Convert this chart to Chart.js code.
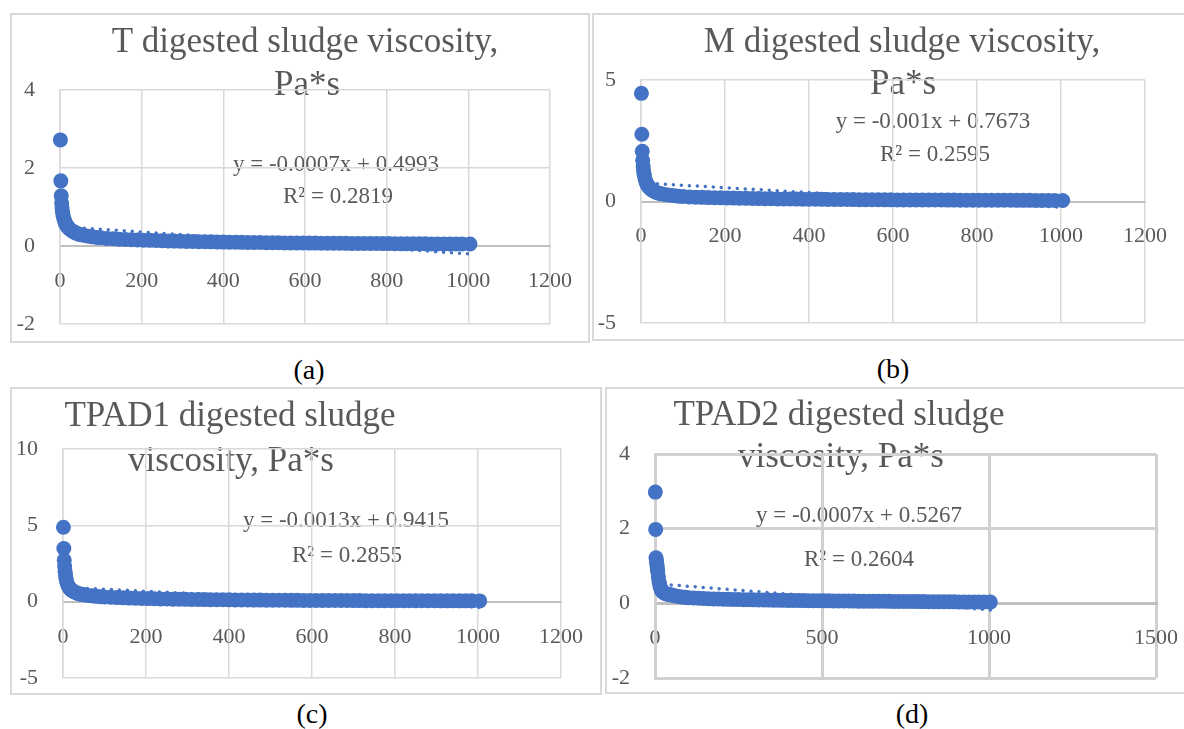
<!DOCTYPE html>
<html>
<head>
<meta charset="utf-8">
<script src="https://cdn.jsdelivr.net/npm/chart.js@4.4.1/dist/chart.umd.min.js"></script>
<style>
  html, body { margin: 0; padding: 0; background: #fff; }
  #page { position: relative; width: 1184px; height: 729px; overflow: hidden; font-family: "Liberation Serif", serif; }
  .frame { position: absolute; border: 2px solid #d9d9d9; box-sizing: border-box; }
  canvas { position: absolute; }
  .cap { position: absolute; font-size: 28px; line-height: 1; color: #000; transform: translate(-50%, -50%); white-space: nowrap; }
</style>
</head>
<body>
<div id="page"></div>
<script>
// x values (shear step) shared by all four runs
const xs = [1, 2, 3, 4, 5, 6, 7, 8, 10, 12, 14, 16, 18, 20, 24, 28, 32, 36, 40, 45, 50, 60, 70, 80, 90, 100,
  115, 130, 145, 160, 175, 190, 205, 220, 235, 250, 265, 280, 295, 310, 325, 340, 355, 370, 385, 400,
  415, 430, 445, 460, 475, 490, 505, 520, 535, 550, 565, 580, 595, 610, 625, 640, 655, 670, 685, 700,
  715, 730, 745, 760, 775, 790, 805, 820, 835, 850, 865, 880, 895, 910, 925, 940, 955, 970, 985, 1004];

// viscosity, Pa*s
const viscT = [2.72, 1.67, 1.29, 1.10, 0.98, 0.89, 0.82, 0.76, 0.68, 0.62, 0.57, 0.53, 0.50, 0.47, 0.43, 0.40, 0.37, 0.35, 0.33, 0.31, 0.29, 0.27, 0.25, 0.235, 0.22, 0.21,
  0.195, 0.185, 0.175, 0.165, 0.16, 0.155, 0.15, 0.145, 0.14, 0.135, 0.13, 0.126, 0.122, 0.118, 0.115, 0.112, 0.109, 0.106, 0.103, 0.10,
  0.098, 0.096, 0.094, 0.092, 0.09, 0.088, 0.086, 0.084, 0.082, 0.08, 0.079, 0.078, 0.076, 0.075, 0.074, 0.072, 0.071, 0.07, 0.069, 0.068,
  0.067, 0.066, 0.065, 0.064, 0.063, 0.062, 0.061, 0.06, 0.059, 0.058, 0.057, 0.056, 0.055, 0.054, 0.054, 0.053, 0.052, 0.051, 0.05, 0.05];

const viscM = [4.45, 2.77, 2.07, 1.70, 1.46, 1.29, 1.16, 1.06, 0.91, 0.80, 0.72, 0.66, 0.61, 0.57, 0.50, 0.45, 0.41, 0.38, 0.35, 0.33, 0.31, 0.28, 0.26, 0.24, 0.22, 0.21,
  0.19, 0.18, 0.17, 0.16, 0.155, 0.15, 0.145, 0.14, 0.135, 0.13, 0.125, 0.12, 0.116, 0.112, 0.108, 0.105, 0.102, 0.099, 0.096, 0.093,
  0.09, 0.088, 0.086, 0.084, 0.082, 0.08, 0.078, 0.076, 0.074, 0.072, 0.07, 0.069, 0.068, 0.066, 0.065, 0.064, 0.063, 0.062, 0.061, 0.06,
  0.059, 0.058, 0.057, 0.056, 0.055, 0.054, 0.053, 0.052, 0.051, 0.05, 0.05, 0.049, 0.048, 0.047, 0.047, 0.046, 0.045, 0.045, 0.044, 0.044];

const viscTPAD1 = [4.87, 3.48, 2.72, 2.30, 2.00, 1.76, 1.57, 1.42, 1.20, 1.06, 0.96, 0.88, 0.82, 0.77, 0.69, 0.63, 0.58, 0.54, 0.51, 0.48, 0.45, 0.41, 0.38, 0.35, 0.33, 0.31,
  0.285, 0.265, 0.25, 0.235, 0.22, 0.21, 0.2, 0.19, 0.18, 0.172, 0.165, 0.158, 0.152, 0.146, 0.14, 0.135, 0.13, 0.126, 0.122, 0.118,
  0.114, 0.11, 0.107, 0.104, 0.101, 0.098, 0.095, 0.093, 0.09, 0.088, 0.086, 0.084, 0.082, 0.08, 0.078, 0.076, 0.075, 0.073, 0.072, 0.07,
  0.069, 0.068, 0.066, 0.065, 0.064, 0.063, 0.062, 0.061, 0.06, 0.059, 0.058, 0.057, 0.056, 0.055, 0.055, 0.054, 0.053, 0.052, 0.052, 0.051];

const viscTPAD2 = [2.98, 1.98, 1.22, 1.16, 1.09, 1.01, 0.93, 0.85, 0.71, 0.59, 0.50, 0.43, 0.38, 0.34, 0.30, 0.28, 0.26, 0.25, 0.24, 0.23, 0.22, 0.20, 0.185, 0.17, 0.16, 0.15,
  0.142, 0.135, 0.129, 0.124, 0.119, 0.115, 0.111, 0.107, 0.104, 0.101, 0.098, 0.095, 0.093, 0.09, 0.088, 0.086, 0.084, 0.082, 0.08, 0.078,
  0.076, 0.074, 0.073, 0.071, 0.07, 0.068, 0.067, 0.066, 0.064, 0.063, 0.062, 0.061, 0.06, 0.059, 0.058, 0.057, 0.056, 0.055, 0.054, 0.053,
  0.052, 0.051, 0.05, 0.049, 0.048, 0.047, 0.046, 0.045, 0.044, 0.043, 0.042, 0.041, 0.04, 0.039, 0.038, 0.037, 0.036, 0.035, 0.034, 0.033];

// linear trendlines as printed on the charts
const trendT = { slope: -0.0007, intercept: 0.4993, r2: '0.2819' };
const trendM = { slope: -0.001, intercept: 0.7673, r2: '0.2595' };
const trendTPAD1 = { slope: -0.0013, intercept: 0.9415, r2: '0.2855' };
const trendTPAD2 = { slope: -0.0007, intercept: 0.5267, r2: '0.2604' };

const BLUE = '#4472C4';
const GREY = '#595959';
const SERIF = '"Liberation Serif", "Times New Roman", serif';

const panels = [
  { cap: '(a)', capPos: [309, 370], ys: viscT, trend: trendT,
    box: [10, 13, 590, 343], plot: [60, 90, 550, 324],
    xMax: 1200, xStep: 200, yMin: -2, yMax: 4, yStep: 2, gw: 1.5, gc: '#d9d9d9', aw: 2,
    title: [['T digested sludge viscosity,', 305, 52], ['Pa*s', 307, 95]],
    eq: [336, 171], r2: [338, 203] },
  { cap: '(b)', capPos: [893, 369], ys: viscM, trend: trendM,
    box: [592, 13, 1190, 341], plot: [641, 80, 1145, 323],
    xMax: 1200, xStep: 200, yMin: -5, yMax: 5, yStep: 5, gw: 1.5, gc: '#d9d9d9', aw: 2,
    title: [['M digested sludge viscosity,', 902, 52], ['Pa*s', 903, 94]],
    eq: [933, 128], r2: [935, 161] },
  { cap: '(c)', capPos: [312, 714], ys: viscTPAD1, trend: trendTPAD1,
    box: [10, 387, 602, 695], plot: [63, 449, 561, 678],
    xMax: 1200, xStep: 200, yMin: -5, yMax: 10, yStep: 5, gw: 1.5, gc: '#d9d9d9', aw: 2,
    title: [['TPAD1 digested sludge', 230, 426], ['viscosity, Pa*s', 231, 471]],
    eq: [346, 527], r2: [347, 562] },
  { cap: '(d)', capPos: [912, 714], ys: viscTPAD2, trend: trendTPAD2,
    box: [605, 387, 1190, 694], plot: [655, 454, 1156, 678],
    xMax: 1500, xStep: 500, yMin: -2, yMax: 4, yStep: 2, gw: 3, gc: '#d0d0d0', aw: 3,
    title: [['TPAD2 digested sludge', 839, 425], ['viscosity, Pa*s', 841, 467]],
    eq: [859, 522], r2: [859, 566] }
];

const page = document.getElementById('page');

function fmtEq(t) {
  const s = t.slope < 0 ? '-' + Math.abs(t.slope) : String(t.slope);
  return 'y = ' + s + 'x + ' + t.intercept;
}

function textPlugin(p) {
  const ox = p.box[0], oy = p.box[1];
  return {
    id: 'excelText',
    beforeDraw(chart) {
      const ctx = chart.ctx;
      ctx.save();
      ctx.fillStyle = GREY;
      ctx.textAlign = 'center';
      ctx.textBaseline = 'alphabetic';
      ctx.font = '35px ' + SERIF;
      p.title.forEach(([txt, x, y]) => ctx.fillText(txt, x - ox, y - oy));
      ctx.font = '23px ' + SERIF;
      ctx.fillText(fmtEq(p.trend), p.eq[0] - ox, p.eq[1] - oy);
      ctx.fillText('R\u00B2 = ' + p.trend.r2, p.r2[0] - ox, p.r2[1] - oy);
      ctx.restore();
    }
  };
}

function makeChart(p) {
  const w = p.box[2] - p.box[0], h = p.box[3] - p.box[1];

  const frame = document.createElement('div');
  frame.className = 'frame';
  frame.style.left = p.box[0] + 'px';
  frame.style.top = p.box[1] + 'px';
  frame.style.width = w + 'px';
  frame.style.height = h + 'px';
  page.appendChild(frame);

  const cv = document.createElement('canvas');
  cv.width = w; cv.height = h;
  cv.style.left = p.box[0] + 'px';
  cv.style.top = p.box[1] + 'px';
  cv.style.width = w + 'px';
  cv.style.height = h + 'px';
  page.appendChild(cv);

  const cap = document.createElement('div');
  cap.className = 'cap';
  cap.textContent = p.cap;
  cap.style.left = p.capPos[0] + 'px';
  cap.style.top = p.capPos[1] + 'px';
  page.appendChild(cap);

  const pts = xs.map((x, i) => ({ x: x, y: p.ys[i] }));
  const xa = xs[0], xb = xs[xs.length - 1];
  const trendPts = [
    { x: xa, y: p.trend.slope * xa + p.trend.intercept },
    { x: xb, y: p.trend.slope * xb + p.trend.intercept }
  ];
  const tickFont = { family: SERIF, size: 22 };

  new Chart(cv, {
    type: 'scatter',
    data: {
      datasets: [
        { label: 'Linear', data: trendPts, showLine: true, pointRadius: 0,
          borderColor: BLUE, borderWidth: 3.5, borderDash: [0, 8], borderCapStyle: 'round', clip: false },
        { label: 'Viscosity', data: pts, pointRadius: 7.5, pointStyle: 'circle',
          backgroundColor: BLUE, borderColor: BLUE, borderWidth: 0, clip: false }
      ]
    },
    options: {
      responsive: false,
      animation: false,
      events: [],
      layout: { padding: { left: 0, top: p.plot[1] - p.box[1], right: p.box[2] - p.plot[2], bottom: p.box[3] - p.plot[3] } },
      plugins: { legend: { display: false }, tooltip: { enabled: false } },
      scales: {
        x: {
          type: 'linear',
          position: { y: 0 },
          min: 0, max: p.xMax,
          afterFit: s => { s.height = 0; s.paddingLeft = 0; s.paddingRight = 0; },
          ticks: { stepSize: p.xStep, padding: 22, color: GREY, font: tickFont, maxRotation: 0, autoSkip: false,
                   callback: v => String(v) },
          grid: { color: p.gc, lineWidth: p.gw, drawTicks: false },
          border: { color: '#bfbfbf', width: p.aw }
        },
        y: {
          type: 'linear',
          min: p.yMin, max: p.yMax,
          afterFit: s => { s.width = p.plot[0] - p.box[0]; s.paddingTop = 0; s.paddingBottom = 0; },
          ticks: { stepSize: p.yStep, padding: 25, color: GREY, font: tickFont, callback: v => String(v) },
          grid: { color: p.gc, lineWidth: p.gw, drawTicks: false },
          border: { color: p.gc, width: p.gw }
        }
      }
    },
    plugins: [textPlugin(p)]
  });
}

panels.forEach(makeChart);
</script>
</body>
</html>
